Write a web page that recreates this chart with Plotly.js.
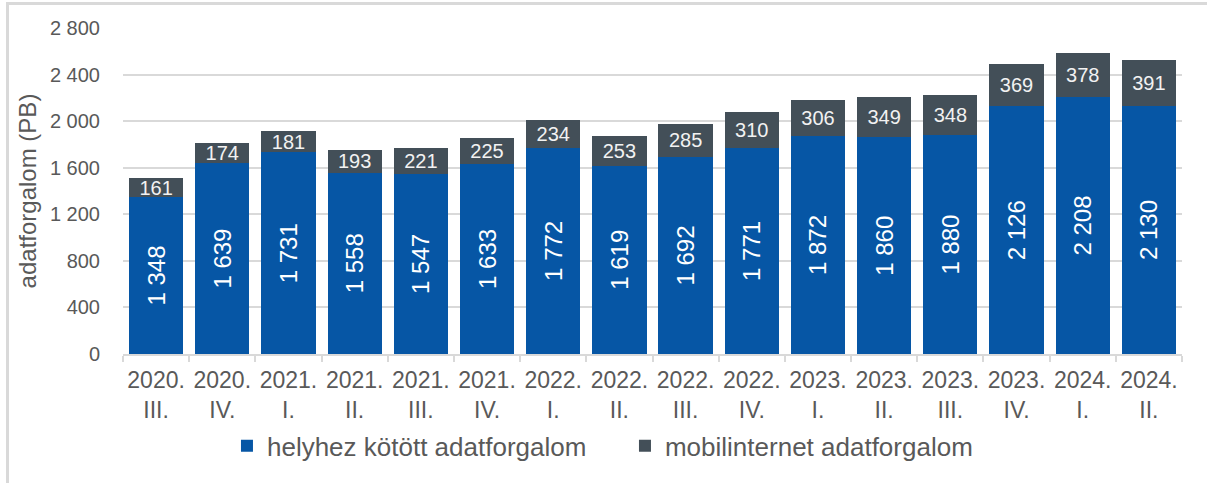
<!DOCTYPE html>
<html>
<head>
<meta charset="utf-8">
<script src="https://cdn.plot.ly/plotly-3.0.1.min.js"></script>
<style>
  html, body { margin: 0; padding: 0; background: #fff; }
  #wrap { position: relative; width: 1207px; height: 483px; }
  #chart { width: 1207px; height: 483px; }
  #frame { position: absolute; left: 6px; top: 2px; right: 0; bottom: 0;
           border-left: 3px solid #d9d9d9; border-top: 3px solid #d9d9d9; pointer-events: none; }
</style>
</head>
<body>
<div id="wrap"><div id="chart"></div><div id="frame"></div></div>
<script>
const categories = ["2020.<br>III.", "2020.<br>IV.", "2021.<br>I.", "2021.<br>II.", "2021.<br>III.", "2021.<br>IV.",
  "2022.<br>I.", "2022.<br>II.", "2022.<br>III.", "2022.<br>IV.", "2023.<br>I.", "2023.<br>II.",
  "2023.<br>III.", "2023.<br>IV.", "2024.<br>I.", "2024.<br>II."];
const fixedTraffic = [1348, 1639, 1731, 1558, 1547, 1633, 1772, 1619, 1692, 1771, 1872, 1860, 1880, 2126, 2208, 2130];
const mobileTraffic = [161, 174, 181, 193, 221, 225, 234, 253, 285, 310, 306, 349, 348, 369, 378, 391];
const seriesNames = ["helyhez kötött adatforgalom", "mobilinternet adatforgalom"];
const yTicks = [0, 400, 800, 1200, 1600, 2000, 2400, 2800];

const FONT = '"Liberation Sans", Arial, sans-serif';
const BLUE = '#0656a5';
const GRAY = '#434f58';

const traces = [
  {
    type: 'bar', name: seriesNames[0], x: categories, y: fixedTraffic,
    marker: { color: BLUE, line: { width: 0 } },
    texttemplate: '%{y:,d}', textposition: 'inside', insidetextanchor: 'middle',
    textangle: -90, constraintext: 'none',
    insidetextfont: { family: FONT, size: 24, color: '#ffffff' },
    hoverinfo: 'skip'
  },
  {
    type: 'bar', name: seriesNames[1], x: categories, y: mobileTraffic,
    marker: { color: GRAY, line: { width: 0 } },
    texttemplate: '%{y:,d}', textposition: 'inside', insidetextanchor: 'middle',
    textangle: 0, constraintext: 'none',
    insidetextfont: { family: FONT, size: 20, color: '#f2f2f2' },
    hoverinfo: 'skip'
  }
];

const layout = {
  width: 1207, height: 483,
  margin: { l: 123, r: 25, t: 28, b: 129 },
  paper_bgcolor: '#ffffff', plot_bgcolor: '#ffffff',
  separators: ', ',
  barmode: 'stack', bargap: 0.18,
  font: { family: FONT, color: '#595959' },
  showlegend: true,
  legend: {
    orientation: 'h', x: 0.474, xanchor: 'center', y: -0.282, yanchor: 'middle',
    font: { family: FONT, size: 26, color: '#595959' },
    traceorder: 'normal', entrywidth: 353, itemclick: false
  },
  xaxis: {
    type: 'category', showgrid: false, showline: true, linecolor: '#d9d9d9', linewidth: 2,
    ticks: 'outside', tickson: 'boundaries', ticklen: 6, tickcolor: '#d9d9d9', tickwidth: 2,
    ticklabelstandoff: 4, tickangle: 0,
    tickfont: { family: FONT, size: 23, color: '#595959' }, fixedrange: true
  },
  yaxis: {
    range: [0, 2800], tickvals: yTicks, tickformat: ',d',
    showgrid: true, gridcolor: '#d9d9d9', gridwidth: 2, zeroline: false, showline: false,
    ticks: 'outside', ticklen: 18, tickcolor: 'rgba(0,0,0,0)',
    tickfont: { family: FONT, size: 20, color: '#595959' },
    title: { text: 'adatforgalom (PB)', font: { family: FONT, size: 24, color: '#595959' }, standoff: 6 },
    fixedrange: true
  }
};

Plotly.newPlot('chart', traces, layout, { displayModeBar: false, staticPlot: true });
</script>
</body>
</html>
